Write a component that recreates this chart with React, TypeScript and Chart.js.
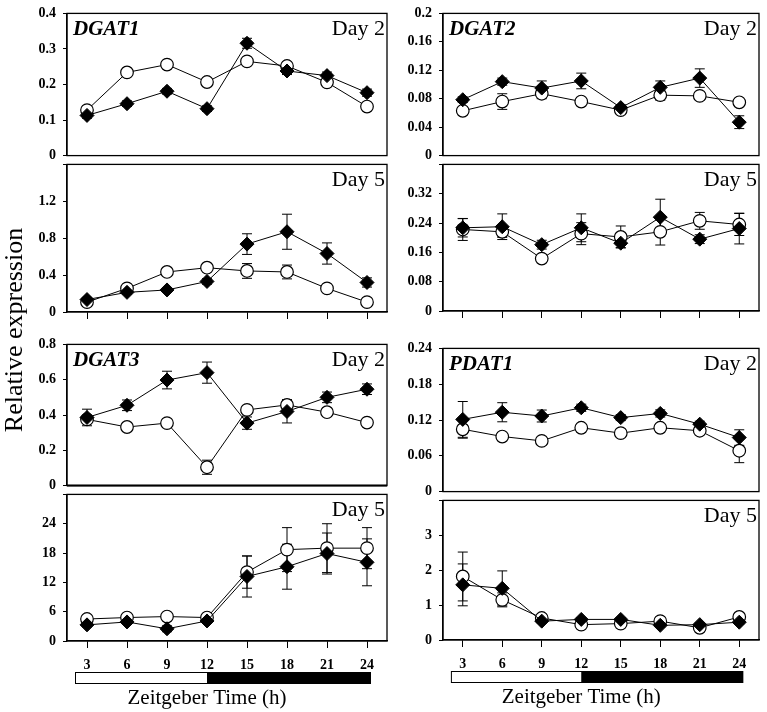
import React, { useEffect, useRef } from "react";
import { Chart, registerables } from "chart.js";

Chart.register(...registerables);

// ---------- data ----------
const zt = [3, 6, 9, 12, 15, 18, 21, 24];
const ztTicks = [3, 6, 9, 12, 15, 18, 21, 24];

const dgat1Day2Open = [0.128, 0.234, 0.256, 0.207, 0.265, 0.252, 0.206, 0.138];
const dgat1Day2OpenErr = [0.008, 0.008, 0.008, 0.008, 0.008, 0.008, 0.008, 0.008];
const dgat1Day2Filled = [0.113, 0.146, 0.181, 0.132, 0.316, 0.238, 0.225, 0.177];
const dgat1Day2FilledErr = [0.008, 0.008, 0.008, 0.008, 0.014, 0.01, 0.01, 0.01];

const dgat1Day5Open = [0.107, 0.256, 0.434, 0.48, 0.445, 0.434, 0.256, 0.107];
const dgat1Day5OpenErr = [0.02, 0.03, 0.03, 0.03, 0.08, 0.075, 0.03, 0.02];
const dgat1Day5Filled = [0.135, 0.213, 0.239, 0.331, 0.736, 0.87, 0.634, 0.32];
const dgat1Day5FilledErr = [0.02, 0.02, 0.02, 0.03, 0.112, 0.19, 0.115, 0.05];

const dgat2Day2Open = [0.063, 0.076, 0.087, 0.076, 0.064, 0.085, 0.084, 0.075];
const dgat2Day2OpenErr = [0.004, 0.011, 0.007, 0.004, 0.004, 0.007, 0.004, 0.004];
const dgat2Day2Filled = [0.0786, 0.104, 0.095, 0.105, 0.0675, 0.096, 0.109, 0.047];
const dgat2Day2FilledErr = [0.004, 0.005, 0.01, 0.011, 0.004, 0.009, 0.013, 0.009];

const dgat2Day5Open = [0.2225, 0.216, 0.143, 0.211, 0.202, 0.216, 0.246, 0.236];
const dgat2Day5OpenErr = [0.03, 0.015, 0.008, 0.03, 0.03, 0.036, 0.023, 0.03];
const dgat2Day5Filled = [0.227, 0.23, 0.181, 0.227, 0.185, 0.256, 0.196, 0.225];
const dgat2Day5FilledErr = [0.025, 0.035, 0.012, 0.038, 0.012, 0.049, 0.012, 0.042];

const dgat3Day2Open = [0.375, 0.332, 0.354, 0.104, 0.429, 0.457, 0.416, 0.357];
const dgat3Day2OpenErr = [0.02, 0.01, 0.01, 0.04, 0.01, 0.03, 0.01, 0.01];
const dgat3Day2Filled = [0.386, 0.455, 0.598, 0.64, 0.354, 0.42, 0.5, 0.546];
const dgat3Day2FilledErr = [0.047, 0.03, 0.05, 0.06, 0.035, 0.065, 0.03, 0.03];

const dgat3Day5Open = [4.5, 4.8, 5.0, 4.8, 14.1, 18.7, 19.0, 19.0];
const dgat3Day5OpenErr = [0.5, 0.5, 0.5, 0.5, 3.3, 4.5, 5.0, 4.2];
const dgat3Day5Filled = [3.3, 3.9, 2.5, 4.1, 13.2, 15.2, 17.9, 16.1];
const dgat3Day5FilledErr = [0.4, 0.4, 0.6, 0.5, 4.2, 4.6, 4.2, 4.8];

const pdat1Day2Open = [0.1045, 0.0923, 0.085, 0.107, 0.098, 0.107, 0.102, 0.0685];
const pdat1Day2OpenErr = [0.015, 0.004, 0.004, 0.004, 0.004, 0.004, 0.004, 0.02];
const pdat1Day2Filled = [0.121, 0.133, 0.1267, 0.1405, 0.124, 0.131, 0.113, 0.0906];
const pdat1Day2FilledErr = [0.03, 0.016, 0.01, 0.006, 0.005, 0.006, 0.005, 0.013];

const pdat1Day5Open = [1.82, 1.15, 0.63, 0.44, 0.47, 0.54, 0.35, 0.66];
const pdat1Day5OpenErr = [0.7, 0.2, 0.05, 0.05, 0.05, 0.05, 0.05, 0.05];
const pdat1Day5Filled = [1.58, 1.48, 0.54, 0.59, 0.59, 0.42, 0.44, 0.51];
const pdat1Day5FilledErr = [0.6, 0.5, 0.05, 0.05, 0.05, 0.05, 0.05, 0.05];

const ticksDgat1Day2 = [0, 0.1, 0.2, 0.3, 0.4];
const ticksDgat1Day5 = [0, 0.4, 0.8, 1.2, 1.6];
const ticksDgat2Day2 = [0, 0.04, 0.08, 0.12, 0.16, 0.2];
const ticksDgat2Day5 = [0, 0.08, 0.16, 0.24, 0.32, 0.4];
const ticksDgat3Day2 = [0, 0.2, 0.4, 0.6, 0.8];
const ticksDgat3Day5 = [0, 6, 12, 18, 24, 30];
const ticksPdat1Day2 = [0, 0.06, 0.12, 0.18, 0.24];
const ticksPdat1Day5 = [0, 1, 2, 3, 4];

const lightStart = 2.1;
const lightEnd = 12;
const darkEnd = 24.3;

const xTitle = "Zeitgeber Time (h)";
const yTitle = "Relative expression";

// ---------- layout ----------
const SERIF = "'Liberation Serif', 'Times New Roman', Times, serif";
const Y_W = 60;
const PAD_T = 12;
const PAD_R = 2;
const PAGE_H = 712;

type XKind = "none" | "marks" | "labels";
type PanelDef = {
  gene: string;
  day: string;
  box: [number, number, number, number];
  yTicks: number[];
  hideTop: boolean;
  open: number[];
  openErr: number[];
  filled: number[];
  filledErr: number[];
  xKind: XKind;
  bottomWidth?: number;
};

const panels: PanelDef[] = [
  { gene: "DGAT1", day: "Day 2", box: [67, 10, 393, 161], yTicks: ticksDgat1Day2, hideTop: false,
    open: dgat1Day2Open, openErr: dgat1Day2OpenErr, filled: dgat1Day2Filled, filledErr: dgat1Day2FilledErr, xKind: "none" },
  { gene: "", day: "Day 5", box: [67, 161, 393, 312], yTicks: ticksDgat1Day5, hideTop: true,
    open: dgat1Day5Open, openErr: dgat1Day5OpenErr, filled: dgat1Day5Filled, filledErr: dgat1Day5FilledErr, xKind: "marks" },
  { gene: "DGAT2", day: "Day 2", box: [443, 10, 765, 161], yTicks: ticksDgat2Day2, hideTop: false,
    open: dgat2Day2Open, openErr: dgat2Day2OpenErr, filled: dgat2Day2Filled, filledErr: dgat2Day2FilledErr, xKind: "none" },
  { gene: "", day: "Day 5", box: [443, 161, 765, 311], yTicks: ticksDgat2Day5, hideTop: true,
    open: dgat2Day5Open, openErr: dgat2Day5OpenErr, filled: dgat2Day5Filled, filledErr: dgat2Day5FilledErr, xKind: "marks" },
  { gene: "DGAT3", day: "Day 2", box: [67, 341, 393, 491], yTicks: ticksDgat3Day2, hideTop: false,
    open: dgat3Day2Open, openErr: dgat3Day2OpenErr, filled: dgat3Day2Filled, filledErr: dgat3Day2FilledErr, xKind: "none", bottomWidth: 2 },
  { gene: "", day: "Day 5", box: [67, 491, 393, 641], yTicks: ticksDgat3Day5, hideTop: true,
    open: dgat3Day5Open, openErr: dgat3Day5OpenErr, filled: dgat3Day5Filled, filledErr: dgat3Day5FilledErr, xKind: "labels" },
  { gene: "PDAT1", day: "Day 2", box: [443, 345, 765, 497], yTicks: ticksPdat1Day2, hideTop: false,
    open: pdat1Day2Open, openErr: pdat1Day2OpenErr, filled: pdat1Day2Filled, filledErr: pdat1Day2FilledErr, xKind: "none" },
  { gene: "", day: "Day 5", box: [443, 497, 765, 640], yTicks: ticksPdat1Day5, hideTop: true,
    open: pdat1Day5Open, openErr: pdat1Day5OpenErr, filled: pdat1Day5Filled, filledErr: pdat1Day5FilledErr, xKind: "labels" },
];

const fmt = (v: number) => String(Number(v.toFixed(3)));

function xHeight(k: XKind) {
  return k === "none" ? 0 : k === "marks" ? 8 : 30;
}

const errorBarPlugin = {
  id: "errorBars",
  beforeDatasetsDraw(chart: any) {
    const ctx = chart.ctx;
    const xs = chart.scales.x;
    const ys = chart.scales.y;
    ctx.save();
    ctx.strokeStyle = "#000";
    ctx.lineWidth = 1;
    chart.data.datasets.forEach((ds: any) => {
      const errs: number[] = ds.errors || [];
      ds.data.forEach((pt: any, i: number) => {
        const e = errs[i] || 0;
        if (!e) return;
        const x = xs.getPixelForValue(pt.x);
        const yt = ys.getPixelForValue(pt.y + e);
        const yb = ys.getPixelForValue(pt.y - e);
        ctx.beginPath();
        ctx.moveTo(x, yt);
        ctx.lineTo(x, yb);
        ctx.moveTo(x - 5, yt);
        ctx.lineTo(x + 5, yt);
        ctx.moveTo(x - 5, yb);
        ctx.lineTo(x + 5, yb);
        ctx.stroke();
      });
    });
    ctx.restore();
  },
};

function makeDecor(p: PanelDef) {
  return {
    id: "decor",
    afterDraw(chart: any) {
      const ctx = chart.ctx;
      const a = chart.chartArea;
      const xs = chart.scales.x;
      ctx.save();
      ctx.strokeStyle = "#000";
      ctx.lineWidth = 1.3;
      ctx.strokeRect(a.left, a.top, a.right - a.left, a.bottom - a.top);
      if (p.bottomWidth) {
        ctx.lineWidth = p.bottomWidth;
        ctx.beginPath();
        ctx.moveTo(a.left, a.bottom);
        ctx.lineTo(a.right, a.bottom);
        ctx.stroke();
      }
      ctx.fillStyle = "#000";
      ctx.textBaseline = "alphabetic";
      if (p.gene) {
        ctx.font = `italic bold 21px ${SERIF}`;
        ctx.textAlign = "left";
        ctx.fillText(p.gene, a.left + 6, a.top + 22);
      }
      ctx.font = `22px ${SERIF}`;
      ctx.textAlign = "right";
      ctx.fillText(p.day, a.right - 2, a.top + 22);
      if (p.xKind === "labels") {
        const x1 = xs.getPixelForValue(lightStart);
        const x2 = xs.getPixelForValue(lightEnd);
        const x3 = xs.getPixelForValue(darkEnd);
        const y0 = a.bottom + 31;
        ctx.fillStyle = "#fff";
        ctx.fillRect(x1, y0, x2 - x1, 12);
        ctx.fillStyle = "#000";
        ctx.fillRect(x2, y0, x3 - x2, 12);
        ctx.lineWidth = 1;
        ctx.strokeRect(x1 + 0.5, y0 + 0.5, x3 - x1 - 1, 11);
        ctx.font = `21px ${SERIF}`;
        ctx.textAlign = "center";
        ctx.textBaseline = "middle";
        ctx.fillText(xTitle, x2, y0 + 26);
      }
      ctx.restore();
    },
  };
}

function Panel({ p }: { p: PanelDef }) {
  const ref = useRef<HTMLCanvasElement>(null);
  const [l, t, r, b] = p.box;
  const xH = xHeight(p.xKind);
  const left = l - Y_W;
  const top = t - PAD_T;
  const width = r - l + Y_W + PAD_R;
  const padB = p.xKind === "labels" ? PAGE_H - b - xH : 10;
  const height = PAD_T + (b - t) + xH + padB;

  useEffect(() => {
    const canvas = ref.current!;
    const chart = new Chart(canvas, {
      type: "line",
      data: {
        datasets: [
          {
            label: "filled",
            data: zt.map((x, i) => ({ x, y: p.filled[i] })),
            errors: p.filledErr,
            borderColor: "#000",
            borderWidth: 1,
            pointStyle: "rectRot",
            pointRadius: 7,
            pointBackgroundColor: "#000",
            pointBorderColor: "#000",
            pointBorderWidth: 1,
            tension: 0,
            fill: false,
          } as any,
          {
            label: "open",
            data: zt.map((x, i) => ({ x, y: p.open[i] })),
            errors: p.openErr,
            borderColor: "#000",
            borderWidth: 1,
            pointStyle: "circle",
            pointRadius: 6.3,
            pointBackgroundColor: "#fff",
            pointBorderColor: "#000",
            pointBorderWidth: 1.2,
            tension: 0,
            fill: false,
          } as any,
        ],
      },
      options: {
        animation: false,
        responsive: false,
        maintainAspectRatio: false,
        events: [],
        layout: { padding: { left: 0, top: PAD_T, right: PAD_R, bottom: padB } },
        plugins: { legend: { display: false }, tooltip: { enabled: false } },
        scales: {
          x: {
            type: "linear",
            min: 1.5,
            max: 25.5,
            display: p.xKind !== "none",
            afterBuildTicks: (s: any) => {
              s.ticks = ztTicks.map((v) => ({ value: v }));
            },
            afterFit: (s: any) => {
              s.height = xH;
            },
            grid: { display: true, drawOnChartArea: false, drawTicks: true, tickLength: 7, color: "#000", lineWidth: 1 },
            border: { display: true, color: "#000", width: 1.3 },
            ticks: {
              display: p.xKind === "labels",
              padding: 9,
              color: "#000",
              font: { family: SERIF, size: 14, weight: "bold" },
              maxRotation: 0,
              autoSkip: false,
            },
          },
          y: {
            type: "linear",
            min: p.yTicks[0],
            max: p.yTicks[p.yTicks.length - 1],
            afterBuildTicks: (s: any) => {
              s.ticks = p.yTicks.map((v) => ({ value: v }));
            },
            afterFit: (s: any) => {
              s.width = Y_W;
            },
            grid: { display: true, drawOnChartArea: false, drawTicks: true, tickLength: 4, color: "#000", lineWidth: 1 },
            border: { display: true, color: "#000", width: 1.3 },
            ticks: {
              padding: 7,
              color: "#000",
              font: { family: SERIF, size: 14, weight: "bold" },
              autoSkip: false,
              callback: (v: any, i: number, arr: any[]) =>
                p.hideTop && i === arr.length - 1 ? "" : fmt(Number(v)),
            },
          },
        },
      } as any,
      plugins: [errorBarPlugin, makeDecor(p)],
    });
    return () => chart.destroy();
  }, []);

  return (
    <canvas
      ref={ref}
      width={width}
      height={height}
      style={{ position: "absolute", left, top, width, height }}
    />
  );
}

export default function App() {
  return (
    <div
      style={{
        position: "absolute",
        left: 0,
        top: 0,
        width: 767,
        height: 712,
        overflow: "hidden",
        background: "#fff",
      }}
    >
      {panels.map((p, i) => (
        <Panel key={i} p={p} />
      ))}
      <div
        style={{
          position: "absolute",
          left: 14 - 160,
          top: 330 - 15,
          width: 320,
          height: 30,
          lineHeight: "30px",
          textAlign: "center",
          fontFamily: SERIF,
          fontSize: 26,
          color: "#000",
          transform: "rotate(-90deg)",
          transformOrigin: "50% 50%",
          whiteSpace: "nowrap",
        }}
      >
        {yTitle}
      </div>
    </div>
  );
}
